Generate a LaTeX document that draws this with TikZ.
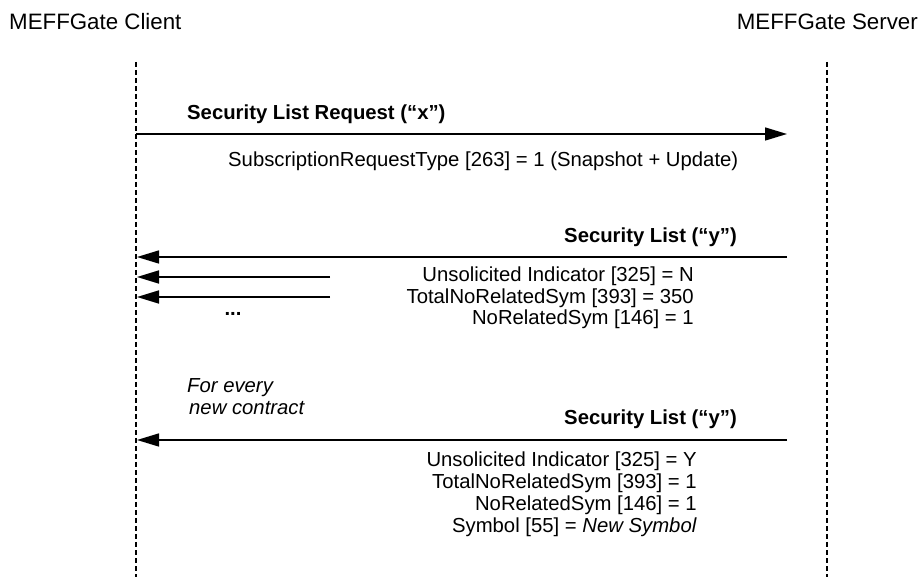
\documentclass[tikz,border=0pt]{standalone}
\usepackage{fontspec}
\setmainfont{Liberation Sans}
\usetikzlibrary{positioning}
\usetikzlibrary{arrows.meta}

\tikzset{
  msg/.style={-{Triangle[length=22pt,width=13pt]}, color=black, line width=1.5pt},
  short/.style={msg, line width=1.7pt},
  lifeline/.style={color=black, line width=1.3pt, dash pattern=on 5pt off 3pt},
  txt/.style={inner sep=0pt, font=\fontsize{20.3}{21.6}\selectfont},
  head/.style={inner sep=0pt, font=\fontsize{22.3}{24}\selectfont},
  lbl/.style={inner sep=0pt, font=\fontsize{20.3}{21.6}\selectfont\bfseries},
}

\begin{document}
\begin{tikzpicture}[x=1pt,y=-1pt]
\useasboundingbox (0,0) rectangle (922,577);

% participants
\node(cl)[head, anchor=base west] at (9,30) {MEFFGate Client};
\node(sv)[head, anchor=base east] at (918,30) {MEFFGate Server};

\coordinate (clt) at (136,62);
\coordinate (clb) at (136,577);
\coordinate (svt) at (827,62);
\coordinate (svb) at (827,577);
\draw[lifeline] (clt)--(clb);
\draw[lifeline] (svt)--(svb);

% request
\coordinate (a1) at (136,134);
\coordinate (b1) at (787,134);
\draw[msg] (a1)--(b1);
\node(r)[lbl, anchor=base west] at (187,120) {Security List Request (“x”)};
\node(rs)[txt, anchor=base west] at (228,167) {SubscriptionRequestType [263] = 1 (Snapshot + Update)};

% first answer
\coordinate (a2) at (787,257);
\coordinate (b2) at (137,257);
\draw[msg] (a2)--(b2);
\node(y1)[lbl, anchor=base east] at (737,243) {Security List (“y”)};
\node(u1)[txt, anchor=base east] at (694,282) {Unsolicited Indicator [325] = N};
\node(t1)[txt, anchor=base east] at ([yshift=-21.5pt]u1.base east) {TotalNoRelatedSym [393] = 350};
\node(n1)[txt, anchor=base east] at ([yshift=-21.5pt]t1.base east) {NoRelatedSym [146] = 1};

\coordinate (a3) at (330,277);
\coordinate (b3) at (137,277);
\coordinate (a4) at (330,297);
\coordinate (b4) at (137,297);
\draw[short] (a3)--(b3);
\draw[short] (a4)--(b4);
\node(dots)[lbl, anchor=base] at (233,316) {...};

% new contracts
\node(fe)[txt, anchor=base west, font=\fontsize{20.3}{22}\selectfont\itshape] at (187,393) {For every};
\node(nc)[txt, anchor=base west, font=\fontsize{20.3}{22}\selectfont\itshape] at ([xshift=2pt,yshift=-22pt]fe.base west) {new contract};

\coordinate (a5) at (787,440);
\coordinate (b5) at (137,440);
\draw[msg] (a5)--(b5);
\node(y2)[lbl, anchor=base east] at (737,425) {Security List (“y”)};
\node(u2)[txt, anchor=base east] at (697,467) {Unsolicited Indicator [325] = Y};
\node(t2)[txt, anchor=base east] at ([yshift=-21.7pt]u2.base east) {TotalNoRelatedSym [393] = 1};
\node(n2)[txt, anchor=base east] at ([yshift=-21.7pt]t2.base east) {NoRelatedSym [146] = 1};
\node(s2)[txt, anchor=base east] at ([yshift=-21.7pt]n2.base east) {Symbol [55] = \textit{New Symbol}};
\end{tikzpicture}
\end{document}
